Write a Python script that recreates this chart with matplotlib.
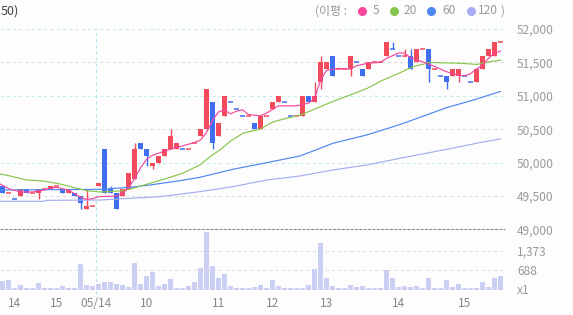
import matplotlib
matplotlib.use("Agg")
import matplotlib.pyplot as plt
from matplotlib.lines import Line2D

plt.rcParams['font.family'] = ['Noto Sans CJK KR', 'DejaVu Sans']

# ---------------- data ----------------
opens = [49650, 49550, 49450, 49500, 49600, 49550, 49550, 49600, 49600, 49650,
         49600, 49550, 49550, 49500, 49300, 49350, 49650, 50200, 49600, 49550,
         49500, 49600, 49750, 50300, 50200, 49950, 50000, 50100, 50200, 50200,
         50200, 50200, 50300, 50400, 50500, 50900, 50400, 50700, 50900, 50800,
         50700, 50700, 50600, 50500, 50700, 50800, 50900, 50900, 50700, 50700,
         50700, 51000, 50900, 51200, 51400, 51600, 51400, 51400, 51400, 51500,
         51400, 51400, 51500, 51500, 51600, 51700, 51600, 51600, 51600, 51500,
         51700, 51700, 51400, 51300, 51300, 51300, 51300, 51300, 51200, 51200,
         51400, 51600, 51600, 51800]
highs = [49650, 49550, 49450, 49600, 49600, 49550, 49600, 49600, 49650, 49650,
         49600, 49600, 49550, 49500, 49600, 49350, 49700, 50200, 49650, 49550,
         49600, 49850, 50300, 50300, 50200, 50000, 50100, 50200, 50500, 50300,
         50200, 50200, 50300, 50500, 51100, 50900, 50600, 51000, 50900, 50800,
         50700, 50700, 50600, 50700, 50700, 50900, 51000, 50900, 50700, 50700,
         51000, 51000, 51200, 51600, 51500, 51600, 51400, 51400, 51600, 51500,
         51400, 51500, 51500, 51500, 51800, 51800, 51600, 51700, 51700, 51700,
         51700, 51700, 51400, 51300, 51300, 51400, 51400, 51300, 51200, 51400,
         51600, 51700, 51800, 51800]
lows = [49550, 49550, 49450, 49500, 49550, 49550, 49450, 49600, 49600, 49650,
        49550, 49550, 49500, 49300, 49300, 49350, 49650, 49550, 49550, 49300,
        49500, 49600, 49750, 50200, 49950, 49900, 50000, 50100, 50200, 50200,
        50200, 50200, 50300, 50400, 50500, 50200, 50400, 50700, 50900, 50800,
        50700, 50700, 50500, 50500, 50700, 50800, 50900, 50900, 50700, 50700,
        50700, 50900, 50900, 51100, 51400, 51300, 51400, 51400, 51300, 51500,
        51300, 51400, 51500, 51500, 51600, 51700, 51600, 51600, 51400, 51500,
        51700, 51200, 51400, 51300, 51100, 51300, 51200, 51300, 51200, 51200,
        51400, 51600, 51600, 51800]
closes = [49550, 49550, 49450, 49600, 49550, 49550, 49600, 49600, 49650, 49650,
          49550, 49600, 49500, 49400, 49350, 49350, 49700, 49550, 49550, 49300,
          49600, 49850, 50200, 50200, 50100, 50000, 50100, 50200, 50400, 50300,
          50200, 50200, 50300, 50500, 51100, 50300, 50600, 51000, 50900, 50800,
          50700, 50700, 50500, 50700, 50700, 50900, 51000, 50900, 50700, 50700,
          51000, 50900, 51000, 51500, 51500, 51300, 51400, 51400, 51600, 51500,
          51300, 51500, 51500, 51500, 51800, 51700, 51600, 51600, 51400, 51700,
          51700, 51400, 51400, 51300, 51200, 51400, 51400, 51300, 51200, 51400,
          51600, 51700, 51800, 51800]
volumes = [298, 333, 60, 155, 48, 48, 226, 48, 48, 48,
           119, 48, 48, 904, 155, 119, 190, 262, 262, 190,
           155, 83, 940, 190, 476, 619, 119, 190, 369, 48,
           48, 119, 262, 762, 2060, 833, 405, 547, 119, 48,
           48, 48, 83, 155, 48, 333, 119, 48, 48, 48,
           48, 155, 726, 1654, 405, 119, 48, 48, 155, 83,
           119, 48, 48, 48, 690, 405, 83, 119, 83, 119,
           48, 405, 48, 48, 333, 83, 190, 48, 48, 48,
           262, 83, 405, 476]

ma5_idx = [-0.4, 1, 3, 5, 7, 8, 9, 11, 13, 14, 15, 16, 19, 20, 21, 22, 23, 24, 25, 26, 28, 30,
           32, 33, 34, 35, 36, 37, 38, 39, 40, 41, 43, 44, 46, 49, 51, 52, 53, 54, 56, 58,
           59, 61, 63, 64, 65, 66, 67, 68, 70, 72, 74, 76, 77, 78, 79, 80, 81, 82, 83]
ma5_val = [49680, 49610, 49560, 49560, 49590, 49620, 49630, 49590, 49480, 49450, 49460, 49490,
           49500, 49540, 49620, 49760, 49920, 50050, 50110, 50140, 50200, 50250, 50300, 50340,
           50450, 50630, 50760, 50790, 50730, 50770, 50790, 50720, 50700, 50740, 50850, 50850,
           50890, 50960, 51230, 51380, 51410, 51400, 51450, 51490, 51500, 51560, 51600, 51640,
           51640, 51570, 51510, 51440, 51360, 51310, 51300, 51330, 51400, 51460, 51560, 51640,
           51670]
ma20_idx = [-0.4, 1.25, 4, 6.75, 9.6, 12.4, 14, 16.25, 17.9, 20, 21.75, 24.6, 27.4, 30, 32.9,
            34.6, 36.25, 37.9, 40.1, 42.9, 45.1, 47.4, 49.6, 51.75, 54.1, 55.75, 57.9, 60.75,
            63.4, 66.25, 68.4, 71.25, 72.9, 76.75, 79.1, 81.25, 83]
ma20_val = [49830, 49800, 49740, 49725, 49680, 49615, 49580, 49560, 49565, 49580, 49615, 49690,
            49765, 49840, 49965, 50090, 50190, 50315, 50440, 50500, 50610, 50665, 50710, 50790,
            50880, 50940, 51010, 51110, 51235, 51345, 51435, 51500, 51495, 51485, 51470, 51510,
            51535]
ma60_idx = [-0.4, 16.25, 21.25, 24.6, 29.6, 32.9, 38.4, 44.1, 49.6, 55.1, 60.75, 66.25, 74.1,
            78.4, 83]
ma60_val = [49590, 49600, 49630, 49665, 49730, 49780, 49900, 50000, 50100, 50290, 50415, 50570,
            50825, 50935, 51065]
ma120_idx = [-0.4, 6.75, 7.4, 16.25, 21.25, 26.25, 32.9, 38.4, 44.1, 49.6, 55.1, 60.75, 66.25,
             74.1, 79.6, 83]
ma120_val = [49420, 49420, 49435, 49440, 49465, 49490, 49565, 49640, 49740, 49800, 49890, 49965,
             50065, 50200, 50300, 50355]

price_ticks = [49000, 49500, 50000, 50500, 51000, 51500, 52000]
vol_ticks = [0, 688, 1373]
vol_tick_labels = ['x1', '688', '1,373']
time_pos = [2, 9, 15.5, 24, 36, 45, 54, 66, 77]
time_labels = ['14', '15', '05/14', '10', '11', '12', '13', '14', '15']
day_break = 15.6

# ---------------- styling ----------------
RED = '#f44b5c'
BLUE = '#3f6ff0'
C5, C20, C60, C120 = '#f5479e', '#86c64c', '#4f86f2', '#a6adf2'
VOLC = '#cbcff4'
LBL = '#9a9a9a'

W, H = 573, 315
fig = plt.figure(figsize=(W / 100, H / 100), dpi=100)
fig.patch.set_facecolor('#fdfdfd')


def rect(x0, y0, x1, y1):
    return [x0 / W, 1 - y1 / H, (x1 - x0) / W, (y1 - y0) / H]


axp = fig.add_axes(rect(0, 20, 505, 229.4))
axv = fig.add_axes(rect(0, 231.7, 505, 289.5))
for ax in (axp, axv):
    ax.set_facecolor('none')
    for s in ax.spines.values():
        s.set_visible(False)
    ax.set_xlim(-0.4167, 83.75)
axp.set_ylim(49000, 52135)
axv.set_ylim(0, max(volumes))

# grid lines
for v in price_ticks[1:]:
    col = '#c4eaf0' if v % 1000 == 0 else '#dadada'
    axp.axhline(v, color=col, lw=0.75, dashes=(3, 3), zorder=0)
axp.axhline(49000, color='#8c8c8c', lw=0.75, dashes=(3, 1.2), zorder=0, clip_on=False)
for v in vol_ticks[1:]:
    axv.axhline(v, color='#dddddd', lw=0.75, dashes=(3, 3), zorder=0)
axp.plot([day_break, day_break], [49000, 52010], color='#b3e5ee', lw=0.75,
         dashes=(3, 3), zorder=0, clip_on=False)
axv.plot([day_break, day_break], [-150, 2150], color='#b3e5ee', lw=0.75,
         dashes=(3, 3), zorder=0, clip_on=False)

# candles
bw = 0.83
prev = None
for i, (o, h, l, c) in enumerate(zip(opens, highs, lows, closes)):
    if c > o:
        col = RED
    elif c < o:
        col = BLUE
    else:
        col = RED if (prev is None or c >= prev) else BLUE
    if h > l:
        axp.vlines(i, l, h, color=col, lw=1.0, zorder=2)
    if c != o:
        axp.bar(i, abs(c - o), bottom=min(o, c), width=bw, color=col, lw=0, zorder=3)
    else:
        axp.hlines(c, i - bw / 2, i + bw / 2, color=col, lw=1.1, zorder=3)
    prev = c

# moving averages
axp.plot(ma120_idx, ma120_val, color=C120, lw=0.85, zorder=4)
axp.plot(ma60_idx, ma60_val, color=C60, lw=0.85, zorder=4)
axp.plot(ma20_idx, ma20_val, color=C20, lw=0.85, zorder=4)
axp.plot(ma5_idx, ma5_val, color=C5, lw=0.85, zorder=5)

# volume
axv.bar(range(len(volumes)), volumes, width=bw, color=VOLC, lw=0, zorder=2)

# axis labels
axp.yaxis.tick_right()
axp.set_yticks(price_ticks, [f'{v:,}' for v in price_ticks])
axp.tick_params(axis='y', length=0, pad=8.6, labelsize=8.6, labelcolor=LBL)
for t in axp.get_yticklabels():
    t.set_ha('left')
axp.set_xticks([])
axv.yaxis.tick_right()
axv.set_yticks(vol_ticks, vol_tick_labels)
axv.tick_params(axis='y', length=0, pad=8.6, labelsize=8.6, labelcolor=LBL)
axv.set_xticks(time_pos, time_labels)
axv.tick_params(axis='x', length=0, pad=5.5, labelsize=8.6, labelcolor='#888888')

# header
fig.text(0.5 / W, 1 - 11 / H, '50)', ha='left', va='center', fontsize=9, color='#444444')
ty = 1 - 11 / H
fig.text(315 / W, ty, '(이평 :', ha='left', va='center', fontsize=8.6, color=LBL)
for cx, col, lab, lx in [(362, C5, '5', 373), (394, C20, '20', 404),
                         (430.5, C60, '60', 442), (470.5, C120, '120', 478)]:
    fig.add_artist(Line2D([cx / W], [ty], marker='o', markersize=6.5, color=col,
                          markeredgewidth=0, transform=fig.transFigure))
    fig.text(lx / W, ty, lab, ha='left', va='center', fontsize=8.6, color=LBL)
fig.text(501 / W, ty, ')', ha='left', va='center', fontsize=8.6, color=LBL)

fig.savefig('out.png', dpi=100, facecolor=fig.get_facecolor())
